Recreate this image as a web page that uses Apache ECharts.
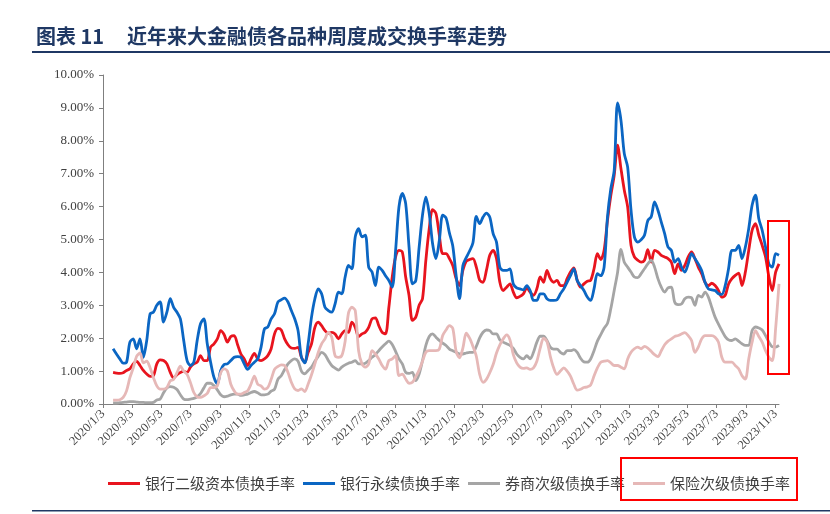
<!DOCTYPE html>
<html>
<head>
<meta charset="utf-8">
<script src="https://cdn.jsdelivr.net/npm/echarts@6/dist/echarts.min.js"></script>
<style>
html,body{margin:0;padding:0;background:#fff;}
#chart{width:830px;height:514px;}
</style>
</head>
<body>
<div id="chart"></div>
<script>
// ---- Data (weekly, first week 2020/1/24, 199 weeks) ----
const firstWeek = [2020, 0, 24];
const weekCount = 199;

const xTickLabels = ['2020/1/3','2020/3/3','2020/5/3','2020/7/3','2020/9/3','2020/11/3',
  '2021/1/3','2021/3/3','2021/5/3','2021/7/3','2021/9/3','2021/11/3',
  '2022/1/3','2022/3/3','2022/5/3','2022/7/3','2022/9/3','2022/11/3',
  '2023/1/3','2023/3/3','2023/5/3','2023/7/3','2023/9/3','2023/11/3'];

const seriesNames = ['银行二级资本债换手率','银行永续债换手率','券商次级债换手率','保险次级债换手率'];

const bankTier2 = [
0.96,0.94,0.93,0.95,1.02,1.07,1.22,1.3,1.17,1.02,
0.91,0.84,0.86,1.22,1.34,1.32,1.22,0.96,0.79,0.89,
0.96,0.99,0.96,1.12,1.22,1.27,1.47,1.32,1.32,1.73,
1.83,1.98,2.23,2.11,1.88,2.05,2.08,1.81,1.52,1.37,
1.17,1.37,1.54,1.37,1.32,1.37,1.47,1.68,2.13,
2.3,2.25,1.98,1.8,1.7,1.69,1.72,1.42,1.27,1.57,
1.83,2.33,2.49,2.38,2.23,2.15,2.18,2.13,1.98,2.13,
2.23,2.18,2.49,2.33,2.05,2.13,2.18,2.33,2.59,2.62,
2.38,2.18,2.13,2.94,3.86,4.47,4.67,4.62,3.86,3.3,
2.54,2.64,3.0,3.2,4.37,5.33,5.91,5.79,5.13,4.57,
4.57,4.42,4.21,3.81,3.6,4.06,4.34,4.39,4.42,4.16,
3.76,3.7,4.06,4.52,4.67,4.42,3.7,3.45,3.55,3.65,
3.4,3.23,3.27,3.35,3.53,3.4,3.3,3.5,3.86,3.7,
4.06,3.81,3.7,3.76,3.6,3.6,3.81,4.01,4.14,3.76,
3.55,3.65,3.73,3.76,4.11,4.57,4.39,4.67,5.58,6.34,
6.95,7.87,7.16,6.5,5.99,4.82,4.47,4.37,4.31,4.37,
4.69,4.31,4.67,4.62,4.52,4.47,4.42,4.31,3.96,4.26,
4.06,4.21,4.47,4.62,4.42,4.16,3.96,3.7,3.6,3.67,
3.6,3.45,3.25,3.3,3.65,3.81,3.91,3.98,3.6,4.01,
4.67,5.28,5.48,5.13,4.82,4.47,3.86,3.45,4.01,4.26];

const bankPerpetual = [
1.68,1.52,1.37,1.24,1.27,1.88,1.98,1.68,1.98,1.42,
1.93,2.74,2.79,3.0,3.1,2.49,2.79,3.2,2.94,2.79,
2.59,1.93,1.32,1.17,1.27,1.93,2.44,2.59,1.83,1.27,
0.81,0.61,1.02,1.2,1.22,1.32,1.42,1.44,1.42,1.22,
1.05,1.17,1.27,1.37,1.73,2.28,2.34,2.59,2.74,
3.1,3.17,3.22,3.1,2.84,2.59,2.23,1.42,1.25,1.83,
2.64,3.2,3.5,3.35,2.94,2.84,2.79,3.04,3.4,3.35,
3.86,4.21,4.11,5.08,5.33,5.08,5.13,4.16,4.01,3.6,
4.16,4.06,3.9,3.75,3.55,4.67,5.99,6.4,6.09,4.77,
3.65,3.75,4.77,5.74,6.29,5.79,4.87,4.42,4.97,5.74,
5.65,5.2,4.8,3.9,3.2,4.2,4.45,4.65,4.9,5.7,
5.48,5.68,5.8,5.68,5.18,4.92,4.16,4.06,4.06,4.11,
3.65,3.53,3.5,3.47,3.6,3.45,3.15,3.15,3.35,3.35,
3.2,3.15,3.15,3.17,3.35,3.5,3.7,3.9,4.11,3.75,
3.6,3.45,3.25,3.15,3.5,3.96,3.9,4.16,5.68,6.55,
7.1,9.15,8.63,7.61,7.2,5.89,5.08,4.92,4.99,5.13,
5.58,5.69,6.14,5.89,5.53,5.18,4.77,4.67,4.31,4.42,
4.16,4.01,4.26,4.57,4.42,4.26,4.06,3.7,3.5,3.47,
3.45,3.35,3.33,3.6,4.11,4.67,4.67,4.82,4.42,4.77,
5.33,6.04,6.35,5.63,5.28,4.77,4.26,4.16,4.57,4.52];

const brokerSub = [
0.03,0.03,0.04,0.05,0.06,0.07,0.07,0.06,0.05,0.05,
0.04,0.04,0.05,0.12,0.15,0.34,0.49,0.53,0.51,0.44,
0.28,0.15,0.13,0.15,0.17,0.22,0.32,0.49,0.63,0.63,
0.56,0.43,0.28,0.22,0.24,0.28,0.3,0.3,0.26,0.28,
0.3,0.35,0.38,0.34,0.28,0.28,0.3,0.39,0.45,
0.75,0.86,1.05,1.22,1.32,1.37,1.3,1.0,0.92,1.02,
1.12,1.3,1.45,1.57,1.5,1.32,1.17,1.09,1.03,1.12,
1.19,1.24,1.27,1.32,1.22,1.22,1.24,1.32,1.42,1.5,
1.62,1.73,1.83,1.91,1.81,1.6,1.37,1.22,0.96,0.93,
0.96,0.71,0.91,1.32,1.78,2.05,2.13,2.03,1.93,1.85,
1.78,1.67,1.62,1.57,1.52,1.52,1.55,1.57,1.57,1.75,
2.01,2.18,2.25,2.23,2.13,2.13,1.95,1.88,1.83,1.78,
1.69,1.52,1.42,1.37,1.47,1.37,1.57,1.88,2.06,2.06,
1.93,1.73,1.67,1.67,1.57,1.52,1.62,1.62,1.65,1.57,
1.39,1.28,1.27,1.37,1.62,1.91,2.11,2.3,2.45,2.9,
3.45,4.0,4.7,4.31,4.16,4.01,3.86,3.84,3.96,4.11,
4.26,4.37,4.16,3.81,3.55,3.4,3.53,3.55,3.09,3.02,
3.04,3.2,3.25,3.23,3.0,3.3,3.25,3.4,3.25,2.94,
2.64,2.43,2.23,2.05,1.95,1.93,1.98,1.91,1.83,1.78,
1.78,2.23,2.34,2.31,2.25,2.08,1.88,1.74,1.73,1.78];

const insuranceSub = [
0.12,0.12,0.13,0.2,0.4,0.8,1.1,1.45,1.55,1.25,
1.3,1.1,0.8,0.55,0.45,0.45,0.5,0.7,0.75,0.95,
1.15,1.0,0.9,0.65,0.35,0.22,0.2,0.25,0.32,0.5,
0.5,0.55,0.95,1.07,1.0,0.6,0.4,0.3,0.3,0.35,
0.4,0.6,0.85,0.6,0.55,0.45,0.5,0.75,1.05,
1.14,1.19,1.17,0.96,0.66,0.46,0.41,0.46,0.38,0.61,
0.89,1.22,1.57,1.83,1.98,2.18,2.03,1.47,1.42,1.47,
1.91,2.77,2.94,2.84,1.62,1.22,1.12,1.22,1.62,1.52,
1.37,1.17,1.06,1.32,1.37,1.47,0.86,0.91,0.76,0.63,
0.66,0.83,1.03,1.3,1.57,1.62,1.62,1.62,1.67,2.08,
2.25,2.38,2.3,1.6,1.4,1.7,2.15,2.0,1.75,1.45,
0.9,0.66,0.75,0.95,1.2,1.55,1.8,1.98,2.1,1.95,
1.5,1.25,1.12,1.08,1.1,1.05,1.1,1.3,1.7,2.0,
1.9,1.45,1.1,0.9,1.0,1.1,1.0,0.85,0.6,0.42,
0.45,0.5,0.52,0.58,0.85,1.1,1.27,1.3,1.32,1.25,
1.17,1.17,1.12,1.07,1.37,1.57,1.68,1.73,1.68,1.75,
1.7,1.6,1.5,1.44,1.62,1.8,1.91,1.98,2.05,2.08,
2.13,2.17,2.08,1.93,1.57,1.73,1.98,2.08,2.08,2.08,
2.03,1.88,1.42,1.27,1.27,1.27,1.17,1.07,0.86,0.76,
1.37,1.88,2.23,2.05,1.88,1.62,1.42,1.32,2.3,3.65];

// ---- Build ----
const weekDates = [];
for (let i = 0; i < weekCount; i++) {
  weekDates.push(new Date(firstWeek[0], firstWeek[1], firstWeek[2] + 7 * i).getTime());
}
function parseYMD(s){ const p = s.split('/').map(Number); return new Date(p[0], p[1]-1, p[2]).getTime(); }
const tickValues = xTickLabels.map(parseYMD);
function fmtDate(v){ const d = new Date(v); return d.getFullYear() + '/' + (d.getMonth()+1) + '/' + d.getDate(); }
function pair(arr){ return arr.map((v, i) => [weekDates[i], v]); }

const colors = ['#E8141E', '#0B66C3', '#A5A5A5', '#E6B8B7'];
const allData = [bankTier2, bankPerpetual, brokerSub, insuranceSub];
const serif = '"Liberation Serif","DejaVu Serif",serif';
const cjk = '"Noto Sans CJK SC","Noto Sans",sans-serif';
const navy = '#1F3864';

const chart = echarts.init(document.getElementById('chart'), null, {renderer: 'canvas'});
chart.setOption({
  backgroundColor: '#fff',
  animation: false,
  color: colors,
  grid: {left: 103, right: 51, top: 75, bottom: 110, containLabel: false},
  legend: {
    data: seriesNames,
    left: 108, top: 476, padding: 0,
    icon: 'rect', itemWidth: 32, itemHeight: 3, itemGap: 8,
    textStyle: {fontFamily: cjk, fontSize: 15, color: '#404040'}
  },
  xAxis: {
    type: 'value',
    min: parseYMD('2020/1/3'),
    max: weekDates[weekDates.length - 1],
    axisLine: {show: true, lineStyle: {color: '#7F7F7F', width: 1}},
    axisTick: {show: true, customValues: tickValues, length: 4, lineStyle: {color: '#7F7F7F'}},
    axisLabel: {
      customValues: tickValues, rotate: 45, formatter: fmtDate,
      fontFamily: serif, fontSize: 12.5, color: '#404040', margin: 8
    },
    splitLine: {show: false}
  },
  yAxis: {
    type: 'value', min: 0, max: 10, interval: 1,
    axisLine: {show: true, lineStyle: {color: '#7F7F7F', width: 1}},
    axisTick: {show: true, length: 4, lineStyle: {color: '#7F7F7F'}},
    axisLabel: {formatter: v => v.toFixed(2) + '%', fontFamily: serif, fontSize: 13, color: '#404040', margin: 9},
    splitLine: {show: false}
  },
  series: seriesNames.map((name, k) => ({
    name: name, type: 'line', data: pair(allData[k]),
    smooth: 0.3, showSymbol: false, symbol: 'none',
    lineStyle: {width: 2.8, color: colors[k]},
    itemStyle: {color: colors[k]}
  })),
  graphic: [
    {type: 'text', left: 36, top: 26, style: {text: '图表 11', font: 'bold 20px ' + cjk, fill: navy}},
    {type: 'text', left: 127, top: 26, style: {text: '近年来大金融债各品种周度成交换手率走势', font: 'bold 20px ' + cjk, fill: navy}},
    {type: 'rect', shape: {x: 32, y: 51, width: 798, height: 2}, style: {fill: navy}},
    {type: 'rect', shape: {x: 32, y: 510, width: 798, height: 1.5}, style: {fill: navy}},
    {type: 'rect', z: 100, shape: {x: 768, y: 221, width: 21, height: 153}, style: {fill: 'none', stroke: '#FF0000', lineWidth: 2}},
    {type: 'rect', z: 100, shape: {x: 621, y: 458, width: 176, height: 42}, style: {fill: 'none', stroke: '#FF0000', lineWidth: 2}}
  ]
});
</script>
</body>
</html>
